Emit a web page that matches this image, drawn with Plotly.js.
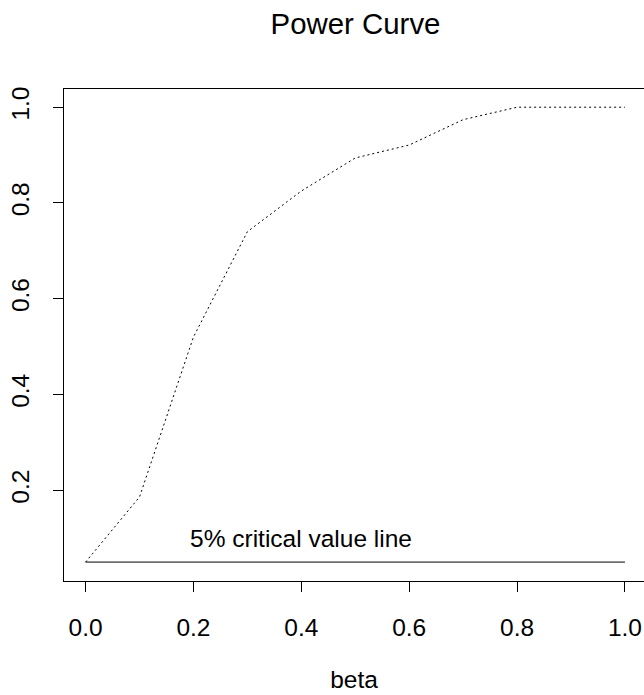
<!DOCTYPE html>
<html>
<head>
<meta charset="utf-8">
<script src="https://cdn.plot.ly/plotly-3.0.1.min.js"></script>
<style>
html,body{margin:0;padding:0;background:#fff;}
#chart{width:644px;height:695px;}
</style>
</head>
<body>
<div id="chart"></div>
<script>
// Data
const beta = [0.0, 0.1, 0.2, 0.3, 0.4, 0.5, 0.6, 0.7, 0.8, 0.9, 1.0];
const power = [0.05, 0.186, 0.52, 0.74, 0.825, 0.894, 0.921, 0.974, 1.0, 1.0, 1.0];
const critX = [0.0, 1.0];
const critY = [0.05, 0.05];
const critLabel = "5% critical value line";
const critLabelPos = [0.4, 0.1];
const xTicks = [0.0, 0.2, 0.4, 0.6, 0.8, 1.0];
const xTickText = ["0.0", "0.2", "0.4", "0.6", "0.8", "1.0"];
const yTicks = [0.2, 0.4, 0.6, 0.8, 1.0];
const yTickText = ["0.2", "0.4", "0.6", "0.8", "1.0"];

const FONT = "Liberation Sans, Arial, Helvetica, sans-serif";

const traces = [
  {
    x: beta, y: power, type: "scatter", mode: "lines",
    line: {color: "#000", width: 1, dash: "2px,3px"},
    hoverinfo: "skip", showlegend: false
  },
  {
    x: critX, y: critY, type: "scatter", mode: "lines",
    line: {color: "#000", width: 1},
    hoverinfo: "skip", showlegend: false
  }
];

const layout = {
  width: 644, height: 695,
  margin: {l: 64, r: 0, t: 89, b: 114, pad: 0},
  paper_bgcolor: "#fff", plot_bgcolor: "#fff",
  font: {family: FONT, color: "#000", size: 24.5},
  showlegend: false,
  title: {
    text: "Power Curve",
    font: {family: FONT, size: 29.4, color: "#000"},
    x: 355.5 / 644, xanchor: "center", xref: "container",
    y: 1 - 23.5 / 695, yanchor: "middle", yref: "container"
  },
  xaxis: {
    range: [-0.04, 1.0353],
    tickmode: "array", tickvals: xTicks, ticktext: xTickText,
    ticks: "outside", ticklen: 10, tickwidth: 1, tickcolor: "#000",
    ticklabelstandoff: 15,
    showline: true, linecolor: "#000", linewidth: 1, mirror: true,
    showgrid: false, zeroline: false,
    tickfont: {family: FONT, size: 24.5, color: "#000"},
    title: {text: "beta", font: {family: FONT, size: 24.5, color: "#000"}, standoff: 30}
  },
  yaxis: {
    range: [0.0105, 1.038],
    tickmode: "array", tickvals: yTicks, ticktext: yTickText,
    tickangle: -90,
    ticks: "outside", ticklen: 10, tickwidth: 1, tickcolor: "#000",
    ticklabelstandoff: 14,
    showline: true, linecolor: "#000", linewidth: 1, mirror: true,
    showgrid: false, zeroline: false,
    tickfont: {family: FONT, size: 24.5, color: "#000"}
  },
  annotations: [
    {
      x: critLabelPos[0], y: critLabelPos[1], xref: "x", yref: "y",
      text: critLabel, showarrow: false,
      xanchor: "center", yanchor: "middle",
      font: {family: FONT, size: 24.5, color: "#000"}
    }
  ]
};

Plotly.newPlot("chart", traces, layout, {displayModeBar: false, staticPlot: true});
</script>
</body>
</html>
